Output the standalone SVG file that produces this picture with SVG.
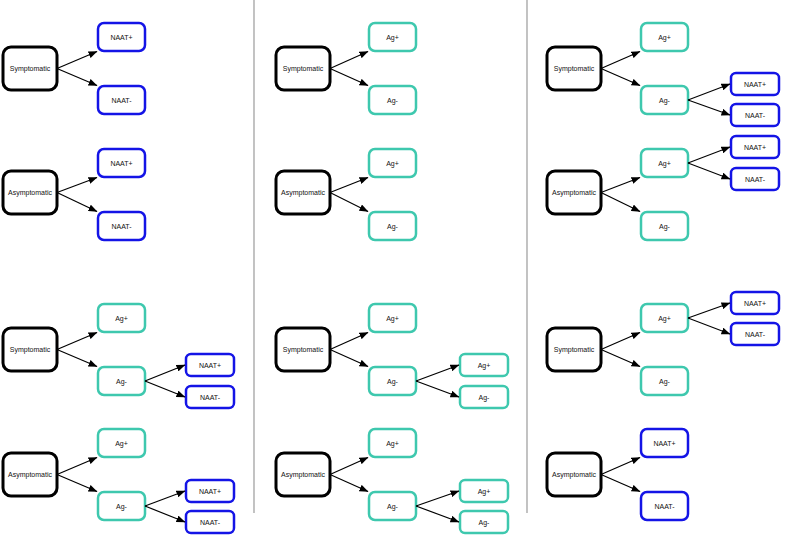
<svg xmlns="http://www.w3.org/2000/svg" width="787" height="535" viewBox="0 0 787 535">
<style>
.src{fill:#fff;stroke:#000;stroke-width:3}
.ag{fill:#fff;stroke:#3ec8ae;stroke-width:2.5}
.naat{fill:#fff;stroke:#1414e6;stroke-width:2.5}
text{font-family:"Liberation Sans",Arial,sans-serif;font-size:7px;fill:#111;text-anchor:middle;dominant-baseline:central}
.c line{stroke:#000;stroke-width:1.2;marker-end:url(#ah)}
.div{stroke:#9a9a9a;stroke-width:1.2}
</style>
<defs>
<marker id="ah" markerUnits="userSpaceOnUse" markerWidth="9" markerHeight="7" refX="8.5" refY="3.5" orient="auto">
<path d="M0,0 L9,3.5 L0,7 z" fill="#000"/>
</marker>
</defs>
<rect width="787" height="535" fill="#fff"/>
<line class="div" x1="254" y1="0" x2="254" y2="513"/>
<line class="div" x1="527" y1="0" x2="527" y2="513"/>

<!-- Panel 1 -->
<g id="p1a-src"><rect class="src" x="3" y="47" width="54" height="43" rx="8"/><text x="30" y="68.5">Symptomatic</text></g>
<g id="p1a-np"><rect class="naat" x="98" y="23" width="47" height="28" rx="6"/><text x="121.5" y="37">NAAT+</text></g>
<g id="p1a-nm"><rect class="naat" x="98" y="86" width="47" height="28" rx="6"/><text x="121.5" y="100">NAAT-</text></g>

<g id="p1b-src"><rect class="src" x="3" y="171" width="54" height="43" rx="8"/><text x="30" y="192.5">Asymptomatic</text></g>
<g id="p1b-np"><rect class="naat" x="98" y="149" width="47" height="28" rx="6"/><text x="121.5" y="163">NAAT+</text></g>
<g id="p1b-nm"><rect class="naat" x="98" y="212" width="47" height="28" rx="6"/><text x="121.5" y="226">NAAT-</text></g>

<g id="p1c-src"><rect class="src" x="3" y="328" width="54" height="43" rx="8"/><text x="30" y="349.5">Symptomatic</text></g>
<g id="p1c-ap"><rect class="ag" x="98" y="304" width="47" height="28" rx="6"/><text x="121.5" y="318">Ag+</text></g>
<g id="p1c-am"><rect class="ag" x="98" y="367" width="47" height="28" rx="6"/><text x="121.5" y="381">Ag-</text></g>
<g id="p1c-np"><rect class="naat" x="186" y="354" width="48" height="22" rx="5"/><text x="210" y="365">NAAT+</text></g>
<g id="p1c-nm"><rect class="naat" x="186" y="386" width="48" height="22" rx="5"/><text x="210" y="397">NAAT-</text></g>

<g id="p1d-src"><rect class="src" x="3" y="453" width="54" height="43" rx="8"/><text x="30" y="474.5">Asymptomatic</text></g>
<g id="p1d-ap"><rect class="ag" x="98" y="429" width="47" height="28" rx="6"/><text x="121.5" y="443">Ag+</text></g>
<g id="p1d-am"><rect class="ag" x="98" y="492" width="47" height="28" rx="6"/><text x="121.5" y="506">Ag-</text></g>
<g id="p1d-np"><rect class="naat" x="186" y="480" width="48" height="22" rx="5"/><text x="210" y="491">NAAT+</text></g>
<g id="p1d-nm"><rect class="naat" x="186" y="511" width="48" height="22" rx="5"/><text x="210" y="522">NAAT-</text></g>

<!-- Panel 2 -->
<g id="p2a-src"><rect class="src" x="276" y="47" width="54" height="43" rx="8"/><text x="303" y="68.5">Symptomatic</text></g>
<g id="p2a-ap"><rect class="ag" x="369" y="23" width="47" height="28" rx="6"/><text x="392.5" y="37">Ag+</text></g>
<g id="p2a-am"><rect class="ag" x="369" y="86" width="47" height="28" rx="6"/><text x="392.5" y="100">Ag-</text></g>

<g id="p2b-src"><rect class="src" x="276" y="171" width="54" height="43" rx="8"/><text x="303" y="192.5">Asymptomatic</text></g>
<g id="p2b-ap"><rect class="ag" x="369" y="149" width="47" height="28" rx="6"/><text x="392.5" y="163">Ag+</text></g>
<g id="p2b-am"><rect class="ag" x="369" y="212" width="47" height="28" rx="6"/><text x="392.5" y="226">Ag-</text></g>

<g id="p2c-src"><rect class="src" x="276" y="328" width="54" height="43" rx="8"/><text x="303" y="349.5">Symptomatic</text></g>
<g id="p2c-ap"><rect class="ag" x="369" y="304" width="47" height="28" rx="6"/><text x="392.5" y="318">Ag+</text></g>
<g id="p2c-am"><rect class="ag" x="369" y="367" width="47" height="28" rx="6"/><text x="392.5" y="381">Ag-</text></g>
<g id="p2c-ap2"><rect class="ag" x="460" y="354" width="48" height="22" rx="5"/><text x="484" y="365">Ag+</text></g>
<g id="p2c-am2"><rect class="ag" x="460" y="386" width="48" height="22" rx="5"/><text x="484" y="397">Ag-</text></g>

<g id="p2d-src"><rect class="src" x="276" y="453" width="54" height="43" rx="8"/><text x="303" y="474.5">Asymptomatic</text></g>
<g id="p2d-ap"><rect class="ag" x="369" y="429" width="47" height="28" rx="6"/><text x="392.5" y="443">Ag+</text></g>
<g id="p2d-am"><rect class="ag" x="369" y="492" width="47" height="28" rx="6"/><text x="392.5" y="506">Ag-</text></g>
<g id="p2d-ap2"><rect class="ag" x="460" y="480" width="48" height="22" rx="5"/><text x="484" y="491">Ag+</text></g>
<g id="p2d-am2"><rect class="ag" x="460" y="511" width="48" height="22" rx="5"/><text x="484" y="522">Ag-</text></g>

<!-- Panel 3 -->
<g id="p3a-src"><rect class="src" x="547" y="47" width="54" height="43" rx="8"/><text x="574" y="68.5">Symptomatic</text></g>
<g id="p3a-ap"><rect class="ag" x="641" y="23" width="47" height="28" rx="6"/><text x="664.5" y="37">Ag+</text></g>
<g id="p3a-am"><rect class="ag" x="641" y="86" width="47" height="28" rx="6"/><text x="664.5" y="100">Ag-</text></g>
<g id="p3a-np"><rect class="naat" x="731" y="73" width="48" height="22" rx="5"/><text x="755" y="84">NAAT+</text></g>
<g id="p3a-nm"><rect class="naat" x="731" y="104" width="48" height="22" rx="5"/><text x="755" y="115">NAAT-</text></g>

<g id="p3b-src"><rect class="src" x="547" y="171" width="54" height="43" rx="8"/><text x="574" y="192.5">Asymptomatic</text></g>
<g id="p3b-ap"><rect class="ag" x="641" y="149" width="47" height="28" rx="6"/><text x="664.5" y="163">Ag+</text></g>
<g id="p3b-am"><rect class="ag" x="641" y="212" width="47" height="28" rx="6"/><text x="664.5" y="226">Ag-</text></g>
<g id="p3b-np"><rect class="naat" x="731" y="136" width="48" height="22" rx="5"/><text x="755" y="147">NAAT+</text></g>
<g id="p3b-nm"><rect class="naat" x="731" y="168" width="48" height="22" rx="5"/><text x="755" y="179">NAAT-</text></g>

<g id="p3c-src"><rect class="src" x="547" y="328" width="54" height="43" rx="8"/><text x="574" y="349.5">Symptomatic</text></g>
<g id="p3c-ap"><rect class="ag" x="641" y="304" width="47" height="28" rx="6"/><text x="664.5" y="318">Ag+</text></g>
<g id="p3c-am"><rect class="ag" x="641" y="367" width="47" height="28" rx="6"/><text x="664.5" y="381">Ag-</text></g>
<g id="p3c-np"><rect class="naat" x="731" y="292" width="48" height="22" rx="5"/><text x="755" y="303">NAAT+</text></g>
<g id="p3c-nm"><rect class="naat" x="731" y="323" width="48" height="22" rx="5"/><text x="755" y="334">NAAT-</text></g>

<g id="p3d-src"><rect class="src" x="547" y="453" width="54" height="43" rx="8"/><text x="574" y="474.5">Asymptomatic</text></g>
<g id="p3d-np"><rect class="naat" x="641" y="429" width="47" height="28" rx="6"/><text x="664.5" y="443">NAAT+</text></g>
<g id="p3d-nm"><rect class="naat" x="641" y="492" width="47" height="28" rx="6"/><text x="664.5" y="506">NAAT-</text></g>

<g id="connectors" class="c">
<line x1="57" y1="68.5" x2="97" y2="51.5"/>
<line x1="57" y1="68.5" x2="97" y2="85.5"/>
<line x1="57" y1="192.5" x2="97" y2="177.5"/>
<line x1="57" y1="192.5" x2="97" y2="211.5"/>
<line x1="57" y1="349.5" x2="97" y2="332.5"/>
<line x1="57" y1="349.5" x2="97" y2="366.5"/>
<line x1="145" y1="381" x2="185" y2="365"/>
<line x1="145" y1="381" x2="185" y2="397"/>
<line x1="57" y1="474.5" x2="97" y2="457.5"/>
<line x1="57" y1="474.5" x2="97" y2="491.5"/>
<line x1="145" y1="506" x2="185" y2="491"/>
<line x1="145" y1="506" x2="185" y2="522"/>

<line x1="330" y1="68.5" x2="368" y2="51.5"/>
<line x1="330" y1="68.5" x2="368" y2="85.5"/>
<line x1="330" y1="192.5" x2="368" y2="177.5"/>
<line x1="330" y1="192.5" x2="368" y2="211.5"/>
<line x1="330" y1="349.5" x2="368" y2="332.5"/>
<line x1="330" y1="349.5" x2="368" y2="366.5"/>
<line x1="416" y1="381" x2="459" y2="365"/>
<line x1="416" y1="381" x2="459" y2="397"/>
<line x1="330" y1="474.5" x2="368" y2="457.5"/>
<line x1="330" y1="474.5" x2="368" y2="491.5"/>
<line x1="416" y1="506" x2="459" y2="491"/>
<line x1="416" y1="506" x2="459" y2="522"/>

<line x1="601" y1="68.5" x2="640" y2="51.5"/>
<line x1="601" y1="68.5" x2="640" y2="85.5"/>
<line x1="688" y1="100" x2="730" y2="84"/>
<line x1="688" y1="100" x2="730" y2="115"/>
<line x1="601" y1="192.5" x2="640" y2="177.5"/>
<line x1="601" y1="192.5" x2="640" y2="211.5"/>
<line x1="688" y1="163" x2="730" y2="147"/>
<line x1="688" y1="163" x2="730" y2="179"/>
<line x1="601" y1="349.5" x2="640" y2="332.5"/>
<line x1="601" y1="349.5" x2="640" y2="366.5"/>
<line x1="688" y1="318" x2="730" y2="303"/>
<line x1="688" y1="318" x2="730" y2="334"/>
<line x1="601" y1="474.5" x2="640" y2="457.5"/>
<line x1="601" y1="474.5" x2="640" y2="491.5"/>
</g>
</svg>
